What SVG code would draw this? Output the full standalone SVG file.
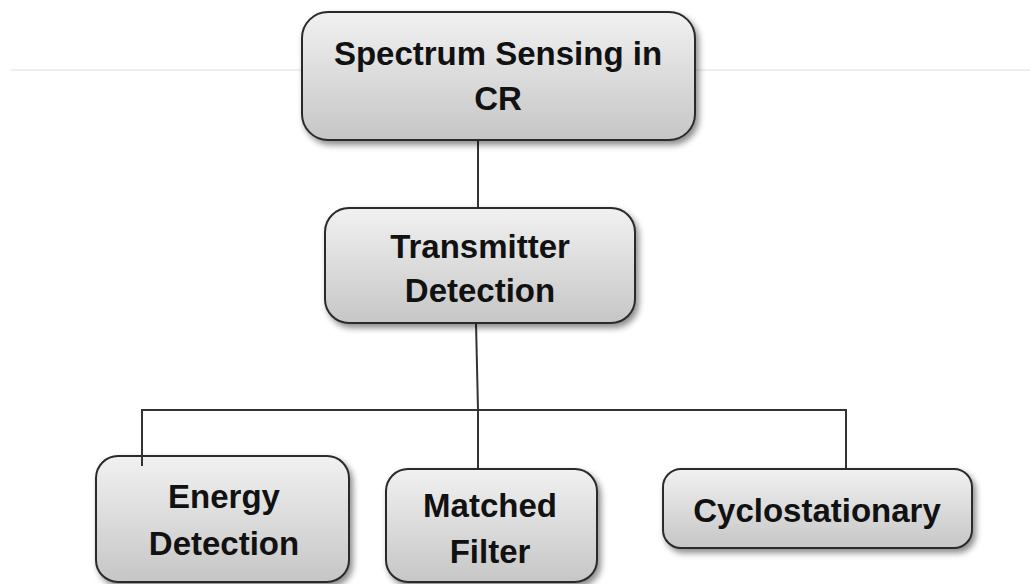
<svg xmlns="http://www.w3.org/2000/svg" width="1030" height="584" viewBox="0 0 1030 584">
  <defs>
    <linearGradient id="boxFill" x1="0" y1="0" x2="0" y2="1">
      <stop offset="0" stop-color="#f1f1f1"/>
      <stop offset="1" stop-color="#c6c6c6"/>
    </linearGradient>
    <filter id="shadow" x="-10%" y="-10%" width="125%" height="130%">
      <feDropShadow dx="3" dy="4" stdDeviation="3" flood-color="#000" flood-opacity="0.45"/>
    </filter>
  </defs>
  <style>
    .box { fill: url(#boxFill); stroke: #2a2a2a; stroke-width: 2; filter: url(#shadow); }
    .label { font-family: "Liberation Sans", Arial, sans-serif; font-weight: bold; font-size: 33px; fill: #111; text-anchor: middle; }
    .wire { fill: none; stroke: #333; stroke-width: 2; }
    .rule { stroke: #eeeeee; stroke-width: 2; }
  </style>

  <rect width="1030" height="584" fill="#ffffff"/>

  <!-- faint header rule behind the top node -->
  <line class="rule" x1="11" y1="70" x2="1030" y2="70"/>

  <g id="connectors">
    <line class="wire" x1="478" y1="140" x2="478" y2="208"/>
    <line class="wire" x1="476" y1="323" x2="478" y2="410"/>
    <polyline class="wire" points="142,466 142,410 846,410 846,469"/>
    <line class="wire" x1="478" y1="410" x2="478" y2="469"/>
  </g>

  <g id="node-spectrum-sensing">
    <rect class="box" x="302" y="12" width="393" height="128" rx="26"/>
    <text class="label" x="498" y="65">Spectrum Sensing in</text>
    <text class="label" x="498" y="110">CR</text>
  </g>

  <g id="node-transmitter-detection">
    <rect class="box" x="325" y="208" width="310" height="115" rx="24"/>
    <text class="label" x="480" y="258">Transmitter</text>
    <text class="label" x="480" y="302">Detection</text>
  </g>

  <g id="node-energy-detection">
    <rect class="box" x="96" y="456" width="253" height="126" rx="22"/>
    <text class="label" x="224" y="508">Energy</text>
    <text class="label" x="224" y="555">Detection</text>
  </g>
  <!-- short stub of the feed line visible over the box top -->
  <line class="wire" x1="142" y1="455" x2="142" y2="466"/>

  <g id="node-matched-filter">
    <rect class="box" x="386" y="469" width="211" height="113" rx="22"/>
    <text class="label" x="490" y="517">Matched</text>
    <text class="label" x="490" y="563">Filter</text>
  </g>

  <g id="node-cyclostationary">
    <rect class="box" x="663" y="469" width="309" height="79" rx="18"/>
    <text class="label" x="817" y="522">Cyclostationary</text>
  </g>
</svg>
